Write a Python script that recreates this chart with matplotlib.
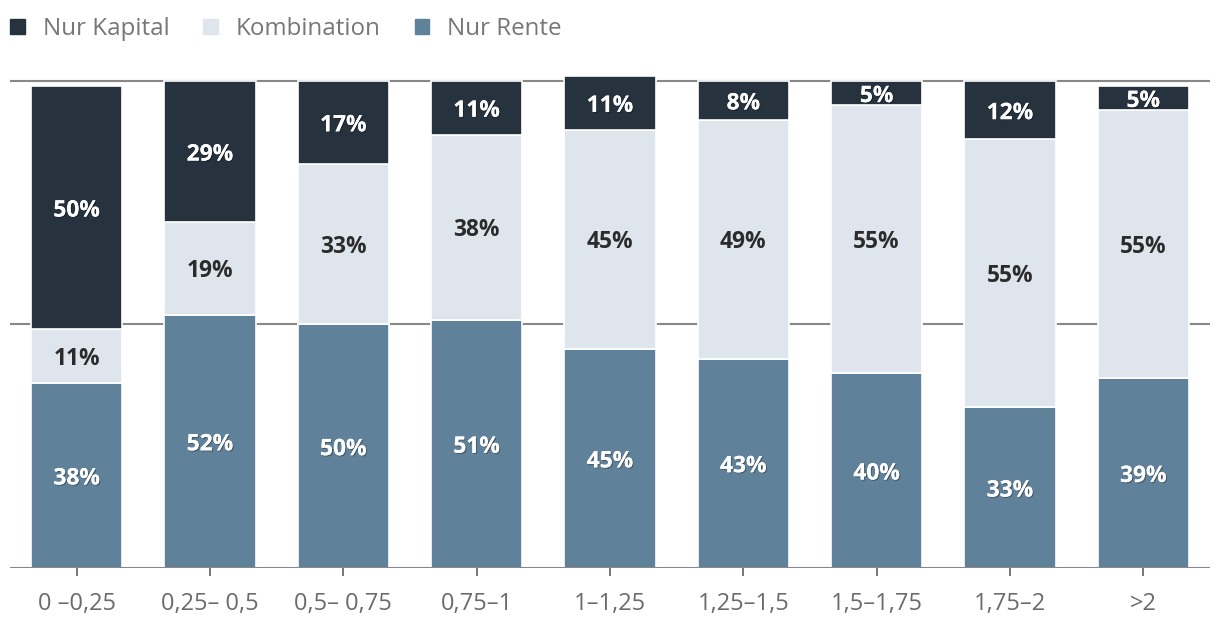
import matplotlib.pyplot as plt
import matplotlib.patheffects as pe
from matplotlib.patches import Patch

plt.rcParams['font.family'] = ['Open Sans', 'DejaVu Sans']

categories = ["0 \u20130,25", "0,25\u2013 0,5", "0,5\u2013 0,75", "0,75\u20131", "1\u20131,25",
              "1,25\u20131,5", "1,5\u20131,75", "1,75\u20132", ">2"]
nur_rente = [38, 52, 50, 51, 45, 43, 40, 33, 39]
kombination = [11, 19, 33, 38, 45, 49, 55, 55, 55]
nur_kapital = [50, 29, 17, 11, 11, 8, 5, 12, 5]

series = [
    ("Nur Rente", nur_rente, "#5f8199", "white"),
    ("Kombination", kombination, "#dfe5ec", "#2b2b2b"),
    ("Nur Kapital", nur_kapital, "#26333f", "white"),
]

fig = plt.figure(figsize=(12.2, 6.42), dpi=100)
ax = fig.add_axes([0.0082, 0.1153, 0.9836, 0.7738])

x = range(len(categories))
bottom = [0] * len(categories)
shadow = [pe.withSimplePatchShadow(offset=(0.8, -0.8), shadow_rgbFace="black", alpha=0.3), pe.Normal()]
for name, vals, color, tcolor in series:
    bars = ax.bar(x, vals, bottom=bottom, width=0.685, color=color,
                  edgecolor="white", linewidth=1.2, zorder=3)
    for i, v in enumerate(vals):
        ax.text(i, bottom[i] + v / 2, f"{v}%", ha="center", va="center_baseline",
                fontsize=16.4, fontweight="bold", color=tcolor, zorder=4,
                path_effects=shadow if tcolor == "white" else None)
    bottom = [b + v for b, v in zip(bottom, vals)]

ax.set_xlim(-0.5, len(categories) - 0.5)
ax.set_ylim(0, 102)
for yv in (0, 50, 100):
    ax.axhline(yv, color="#888888", linewidth=1.5, zorder=1 if yv else 5)

ax.set_yticks([])
ax.set_xticks(list(x))
ax.set_xticklabels(categories, fontsize=17, color="#6b6b6b")
ax.tick_params(axis="x", length=6, width=1.4, color="#777777", pad=11)
for s in ax.spines.values():
    s.set_visible(False)

handles = [Patch(color=c, label=n) for n, _, c, _ in reversed(series)]
fig.legend(handles=handles, loc="center left", bbox_to_anchor=(10 / 1220, 1 - 29 / 642), ncol=3,
           frameon=False, fontsize=17.4, labelcolor="#777777",
           handlelength=0.6, handleheight=0.6, handletextpad=0.75, columnspacing=1.4,
           borderpad=0, borderaxespad=0)

fig.savefig("out.png", dpi=100)
